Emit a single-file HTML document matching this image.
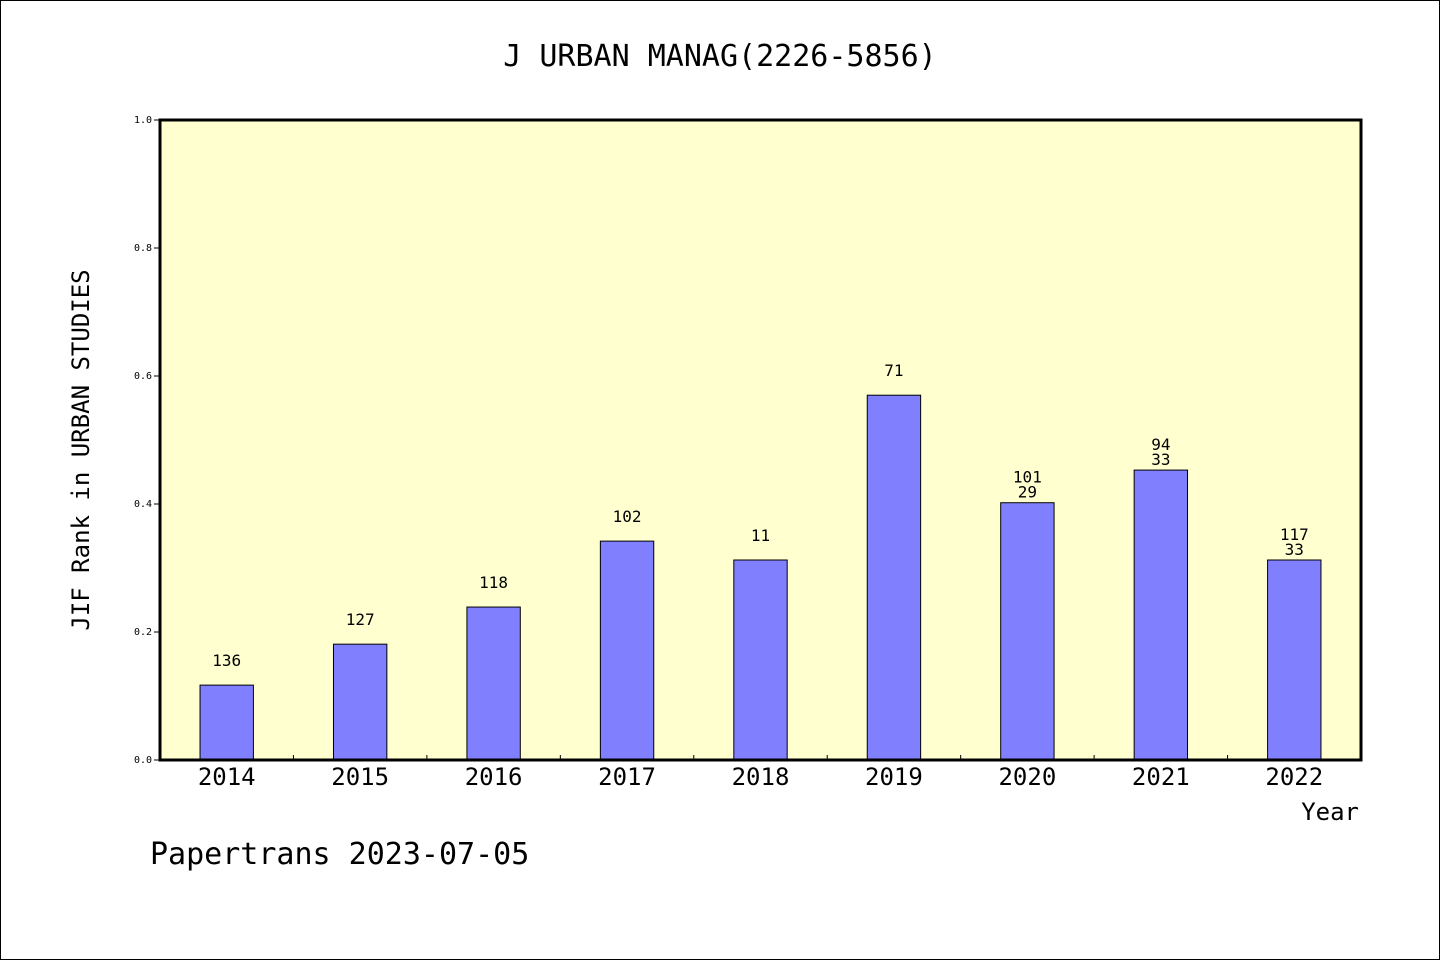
<!DOCTYPE html>
<html><head><meta charset="utf-8"><style>
html,body{margin:0;padding:0;background:#fff}
svg{display:block}
text{font-family:"DejaVu Sans Mono","Liberation Mono","WenQuanYi Zen Hei",monospace;fill:#000}
</style></head><body>
<svg width="1440" height="960" viewBox="0 0 1440 960">
<rect x="0.5" y="0.5" width="1439" height="959" fill="#fff" stroke="#000"/>
<text x="720" y="66" text-anchor="middle" font-size="30">J URBAN MANAG(2226-5856)</text>
<rect x="160" y="120" width="1201" height="640" fill="#ffffd0"/>
<g id="bars"></g>
<g id="axes"></g>
<rect x="160" y="120" width="1201" height="640" fill="none" stroke="#000" stroke-width="3"/>
<text transform="translate(89,450) rotate(-90)" text-anchor="middle" font-size="24">JIF Rank in URBAN STUDIES</text>
<text x="1359" y="820" text-anchor="end" font-size="24">Year</text>
<text x="150" y="864" font-size="30">Papertrans 2023-07-05</text>
</svg>
<script>
const categories=["2014","2015","2016","2017","2018","2019","2020","2021","2022"];
const values=[0.117,0.181,0.239,0.342,0.3125,0.570,0.402,0.453,0.3125];
const labelTop=["136","127","118","102","11","71","101","94","117"];
const labelBottom=["","","","","","","29","33","33"];
const yTicks=[0,0.2,0.4,0.6,0.8,1.0];
const NS="http://www.w3.org/2000/svg";
const X0=160,X1=1361,Y0=760,Y1=120;
const band=(X1-X0)/categories.length;
const xc=i=>X0+band*(i+0.5);
const y=v=>Y0-(Y0-Y1)*v;
function mk(tag,attrs,parent,txt){const e=document.createElementNS(NS,tag);for(const k in attrs)e.setAttribute(k,attrs[k]);if(txt!=null)e.textContent=txt;parent.appendChild(e);return e;}
const bars=document.getElementById('bars'),axes=document.getElementById('axes');
categories.forEach((c,i)=>{
  const w=band*0.4;
  const r=mk('rect',{x:xc(i)-w/2,y:y(values[i]),width:w,height:Y0-y(values[i]),fill:'#8080ff',stroke:'#000','stroke-width':1},bars);
  
  
  const two=labelBottom[i]!=="";
  const t=mk('text',{x:xc(i),y:y(values[i])-(two?20:19),'text-anchor':'middle','font-size':16},bars,labelTop[i]);
  
  
  if(two){
    const t2=mk('text',{x:xc(i),y:y(values[i])-5,'text-anchor':'middle','font-size':16},bars,labelBottom[i]);
    
    
  }
  const xl=mk('text',{x:xc(i),y:785,'text-anchor':'middle','font-size':24},axes,c);
  
  
  if(i>0){
    const tk=mk('line',{x1:X0+band*i,x2:X0+band*i,y1:Y0-5,y2:Y0,stroke:'#000'},axes);
    
    
  }
});
yTicks.forEach(v=>{
  const l=mk('line',{x1:X0-6,x2:X0,y1:y(v),y2:y(v),stroke:'#000'},axes);
  
  
  const t=mk('text',{x:X0-8,y:y(v)+3,'text-anchor':'end','font-size':10},axes,v.toFixed(1));
  
  
});
</script>
</body></html>
